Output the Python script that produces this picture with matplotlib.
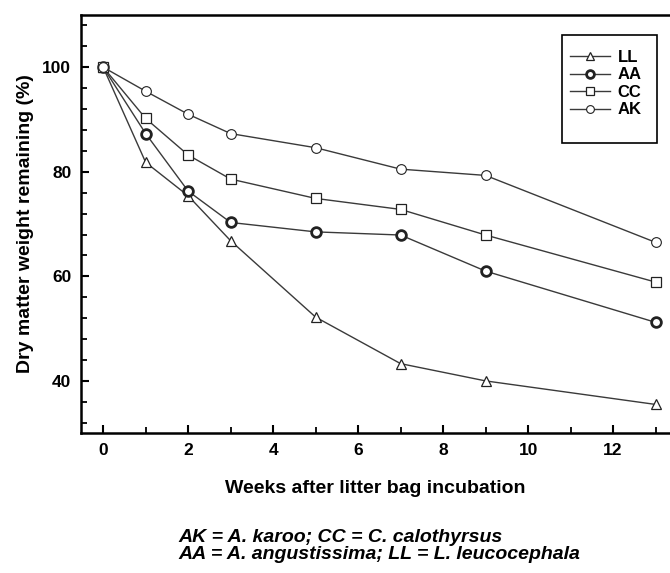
import matplotlib
matplotlib.use("Agg")
import matplotlib.pyplot as plt
from matplotlib.patches import Rectangle
from matplotlib.ticker import MultipleLocator

# Weeks after incubation
weeks = [0, 1, 2, 3, 5, 7, 9, 13]

# Dry matter weight remaining (%)
ll_vals = [100, 81.8, 75.4, 66.8, 52.2, 43.3, 40.0, 35.5]
aa_vals = [100, 87.3, 76.3, 70.3, 68.5, 67.9, 61.0, 51.2]
cc_vals = [100, 90.2, 83.2, 78.6, 74.9, 72.8, 67.9, 58.9]
ak_vals = [100, 95.4, 91.0, 87.3, 84.6, 80.5, 79.3, 66.5]

series_labels = ["LL", "AA", "CC", "AK"]
x_ticks = [0, 2, 4, 6, 8, 10, 12]
y_ticks = [40, 60, 80, 100]

plt.rcParams["font.family"] = ["Liberation Sans", "DejaVu Sans"]
plt.rcParams["font.weight"] = "bold"

fig = plt.figure(figsize=(6.7, 5.73), dpi=100)
ax = fig.add_axes([0.121, 0.244, 0.879, 0.730])

line_kw = dict(color="#3a3a3a", linewidth=1.0, markerfacecolor="white",
               markeredgecolor="#222222")

ax.plot(weeks, ll_vals, marker="^", markersize=7.5, markeredgewidth=0.9,
        label=series_labels[0], **line_kw)
ax.plot(weeks, aa_vals, marker="o", markersize=7, markeredgewidth=2.0,
        label=series_labels[1], **line_kw)
ax.plot(weeks, cc_vals, marker="s", markersize=7.5, markeredgewidth=0.9,
        label=series_labels[2], **line_kw)
ax.plot(weeks, ak_vals, marker="o", markersize=7, markeredgewidth=0.8,
        label=series_labels[3], **line_kw)

ax.set_xlim(-0.52, 13.34)
ax.set_ylim(30, 110)
ax.set_xticks(x_ticks)
ax.set_yticks(y_ticks)
ax.xaxis.set_minor_locator(MultipleLocator(1))
ax.yaxis.set_minor_locator(MultipleLocator(4))

ax.spines["right"].set_visible(False)
for s in ["left", "top", "bottom"]:
    ax.spines[s].set_linewidth(1.8)

ax.tick_params(axis="both", which="major", direction="in", length=6, width=1.5,
               labelsize=12.5, pad=7)
ax.tick_params(axis="both", which="minor", direction="in", length=4, width=1.3)

ax.set_xlabel("Weeks after litter bag incubation", fontsize=14,
              fontweight="bold", labelpad=16)
ax.set_ylabel("Dry matter weight remaining (%)", fontsize=14,
              fontweight="bold", labelpad=6)

# legend without its own frame, box drawn separately (taller than wide padding)
leg = fig.legend(loc="upper left", bbox_to_anchor=(0.851, 0.913),
                 frameon=False, fontsize=12, handlelength=2.4,
                 handletextpad=0.45, borderpad=0.0, labelspacing=0.15,
                 borderaxespad=0.0, markerscale=0.8)
for t in leg.get_texts():
    t.set_fontweight("bold")
fig.patches.append(Rectangle((0.8388, 0.7504), 0.1418, 0.1885,
                             transform=fig.transFigure, fill=False,
                             edgecolor="black", linewidth=1.2))

fig.text(0.266, 0.047, "AK = A. karoo; CC = C. calothyrsus\n"
         "AA = A. angustissima; LL = L. leucocephala",
         ha="left", va="center", fontsize=14, fontweight="bold",
         style="italic", linespacing=1.0)

fig.savefig("out.png", dpi=100)
